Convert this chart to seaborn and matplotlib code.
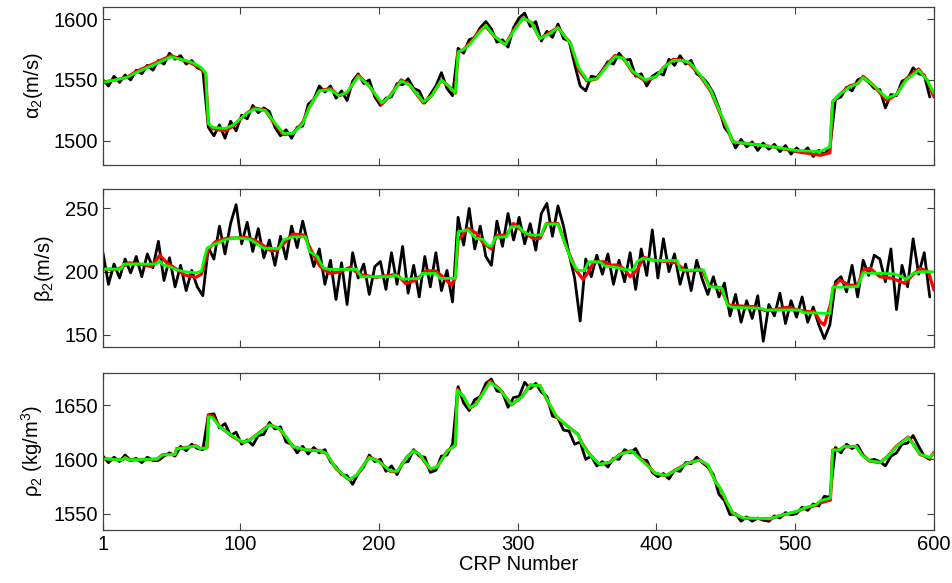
import numpy as np
import pandas as pd
import matplotlib
matplotlib.use("Agg")
import matplotlib.pyplot as plt
import seaborn as sns

# ---------------- data ----------------
crp_black = np.arange(1, 601, 4)

alpha_black = [
    1550,1545,1553,1548,1554,1550,1558,1555,1562,1558,
    1566,1563,1572,1567,1570,1563,1566,1560,1558,1511,
    1504,1513,1502,1516,1508,1521,1518,1529,1523,1527,
    1524,1511,1504,1509,1502,1511,1512,1530,1534,1545,
    1540,1545,1535,1541,1533,1549,1555,1547,1550,1536,
    1529,1535,1536,1547,1546,1551,1543,1541,1531,1538,
    1545,1556,1543,1537,1576,1572,1583,1585,1593,1598,
    1592,1581,1583,1577,1593,1601,1605,1594,1598,1582,
    1590,1585,1596,1584,1582,1563,1545,1541,1553,1552,
    1558,1565,1563,1572,1566,1567,1553,1555,1545,1553,
    1556,1554,1567,1562,1570,1563,1566,1555,1552,1547,
    1539,1527,1511,1505,1494,1501,1495,1499,1492,1498,
    1493,1497,1491,1496,1489,1494,1490,1494,1487,1492,
    1489,1494,1534,1536,1544,1541,1550,1552,1548,1543,
    1542,1527,1538,1537,1549,1551,1560,1555,1554,1536]

alpha_x = [1,10,18,25,37,50,57,64,71,75, 77,80,89,95,104,110,118,124,131,138,
           145,150,157,165,171,177,185,193,202,208, 216,222,232,238,245,251,255,257,261,266,
           273,277,283,291,297,304,310,316,323,329, 338,344,350,357,364,370,376,383,392,400,
           405,412,419,424,431,439,446,451,455,470, 484,501,518,525,527,532,539,545,549,556,
           566,573,580,589,595,600]
alpha_green = [1548,1550,1552,1556,1562,1569,1567,1565,1561,1556, 1514,1511,1510,1513,1522,1526,1525,1516,1506,1506,
               1514,1528,1541,1542,1537,1540,1553,1545,1531,1537, 1549,1546,1532,1537,1550,1544,1539,1573,1575,1580,
               1590,1595,1586,1579,1590,1601,1597,1584,1588,1593, 1580,1560,1550,1551,1561,1569,1568,1557,1550,1553,
               1560,1566,1566,1564,1555,1542,1523,1511,1499,1497, 1495,1492,1491,1495,1532,1538,1544,1547,1552,1546,
               1535,1538,1550,1558,1550,1539]
alpha_red = [1548,1550,1552,1557,1563,1570,1567,1564,1560,1555, 1514,1510,1508,1512,1522,1527,1525,1515,1505,1506,
             1515,1528,1541,1543,1537,1539,1554,1545,1530,1537, 1550,1546,1531,1537,1550,1544,1539,1573,1575,1581,
             1591,1594,1586,1579,1591,1601,1597,1584,1589,1593, 1580,1558,1549,1551,1562,1570,1568,1556,1549,1553,
             1560,1567,1566,1563,1554,1541,1522,1510,1499,1497, 1495,1491,1488,1490,1532,1538,1545,1547,1553,1546,
             1533,1538,1551,1559,1550,1536]

beta_black = [
    215,190,206,195,210,199,212,196,214,203,
    224,193,211,188,205,185,201,188,181,219,
    210,236,214,238,253,222,239,216,234,211,
    225,205,228,210,236,219,240,221,204,218,
    190,209,178,207,174,215,195,206,182,204,
    208,186,215,190,220,183,205,180,212,188,
    215,185,201,176,243,221,250,218,236,212,
    205,240,220,246,225,243,222,238,217,246,
    254,228,252,236,214,195,161,210,196,213,
    198,214,190,209,192,215,186,218,197,233,
    195,226,200,214,190,206,185,209,194,182,
    196,180,191,165,182,160,177,163,181,145,
    174,165,183,159,177,164,180,160,172,158,
    147,158,192,196,184,205,180,209,197,213,
    210,192,218,170,205,188,226,198,215,180]

beta_green_x = [1,14,16,39,42,44,49,54,60,68, 72,74,76,80,90,97,107,111,116,119,
                128,131,138,147,150,155,160,164,184,187, 208,212,217,229,231,241,244,255,257,264,
                270,275,278,281,284,292,295,301,304,309, 317,320,329,334,339,343,348,351,359,363,
                371,376,383,386,390,400,415,417,434,438, 447,451,455,475,479,503,506,525,527,545,
                549,571,577,580,585,590,600]
beta_green = [202,202,206,206,208.5,205.5,204,201.5,200,199, 200.5,210,218.4,221,225.5,227,225.5,222.8,219,218.4,
              218.4,225,227.6,227.6,215.7,212.6,203,201.8,201.8,196, 196,197.2,194,194.7,198.6,198.6,194.7,194.7,231.5,233,
              226.3,225.5,221,220,227.1,227.6,235.5,235.5,231.5,229, 229,237.6,237.6,222.3,207.8,201.3,200.7,207.8,207.8,204.4,
              203.4,201.8,201.3,207.8,210.5,208.8,208.8,201.3,201.3,188.1, 187.1,173.6,171.8,171,169.7,169.7,167.5,167,187.6,188.1,
              199.1,198.3,196,193.9,198.6,199.9,199.9]

beta_red_x = [1,12,20,30,36,42,47,54,60,68, 72,77,82,90,104,110,115,121,126,132,
              138,146,151,157,160,165,172,179,186,198, 207,213,219,226,234,241,247,252,255,257,
              264,270,275,281,285,292,297,304,311,316, 321,329,335,342,347,351,355,362,367,372,
              377,381,386,391,398,408,414,421,433,438, 446,452,457,470,479,494,502,508,514,518,
              521,525,528,532,539,545,549,554,561,570, 579,585,590,596,600]
beta_red = [201.8,202,207,205.5,204,213,207,202,197.3,195.5, 198,217.6,223.6,226.3,227.1,225,222,217.1,216.5,223,
            229.7,229,217.1,205,201.8,198.6,200,203.4,197.8,195.5, 197,197.8,190.7,193,200.7,200.5,195,189.4,195,225,
            234.2,230.5,222.8,218,228.8,228.8,238.1,231.5,226.3,226.3, 238.1,238.1,219.7,201.3,193.9,199.9,207.8,207.8,205.2,205.2,
            201.8,196,201.3,211.3,209,208,207,200.5,201.3,188.9, 187.1,173.6,173,172.3,169,171.8,169.7,168.4,168.4,160.4,
            157.8,172.5,188.1,193.4,189.4,189,201.3,202.6,196,194.7, 190.7,197.8,202.6,200,185.5]

rho_black = [
    1603,1597,1602,1598,1604,1599,1601,1597,1602,1599,
    1599,1603,1606,1603,1612,1608,1614,1610,1609,1641,
    1642,1629,1633,1622,1625,1614,1618,1613,1622,1623,
    1634,1628,1630,1616,1614,1606,1612,1605,1611,1606,
    1609,1598,1593,1586,1585,1577,1587,1593,1604,1598,
    1600,1589,1594,1586,1597,1598,1609,1603,1602,1588,
    1590,1603,1604,1614,1667,1652,1645,1655,1658,1670,
    1674,1663,1662,1648,1657,1658,1671,1665,1670,1662,
    1658,1640,1638,1627,1626,1614,1616,1600,1603,1594,
    1598,1593,1601,1600,1609,1606,1610,1600,1599,1588,
    1584,1587,1582,1590,1589,1597,1596,1602,1597,1593,
    1586,1568,1562,1549,1550,1543,1547,1543,1546,1544,
    1543,1548,1546,1551,1549,1550,1556,1553,1559,1557,
    1566,1565,1611,1606,1614,1610,1613,1604,1599,1600,
    1598,1594,1603,1606,1614,1615,1622,1612,1603,1600]

rho_x = [1,15,17,20,40,44,53,54,61,68, 71,76,77,80,85,95,102,107,114,121,
         128,133,138,148,157,162,169,177,179,184, 193,200,208,213,220,225,229,237,242,249,
         255,256.5,261,265.5,270,280,287,295.5,303,309, 316,322,328,335,343.6,346,352,359,366.5,374,
         382,393,399,407,414.5,422,431,437,443,446, 450.5,455,462.5,482,487,501,508,515,518,525.4,
         527,532,535,544,548,554,561,566,573,581.4, 585,590,597,600]
rho_green = [1600.5,1599.6,1601.7,1599.6,1600.2,1604.1,1604.5,1609.6,1610.8,1612.4,
             1610,1610.5,1639.3,1638.5,1630.1,1621,1615.8,1617.9,1624.5,1631.7,
             1628.7,1621,1611.8,1608.7,1608,1605.7,1591.9,1582.8,1581.3,1585.8,
             1601.7,1598,1589.5,1589,1601.7,1607.8,1605,1591.3,1593.2,1607.2,
             1613.3,1663.8,1657.6,1647.5,1650.9,1671,1664.5,1650.6,1657.6,1668.3,
             1668,1653,1639.3,1631.7,1622.5,1614.9,1604.1,1595.6,1597.4,1604.8,
             1607.8,1595,1587.3,1585.2,1590.4,1596.3,1599.3,1595,1578.2,1573.6,
             1561.3,1550.6,1546,1545.4,1547.6,1552.1,1555.8,1558.2,1561.9,1564.4,
             1608.7,1608.7,1611.8,1611.8,1604.1,1598.6,1597.4,1601.7,1611.8,1620,
             1614,1604.8,1601.7,1605.7]
rho_red = [1600.5,1599.6,1601.5,1599.4,1600.2,1604.3,1604.5,1609.8,1611,1612.6,
           1610,1610.8,1641,1640,1630.5,1620.5,1615.5,1618,1624.8,1632,
           1628.5,1620.5,1611.5,1608.5,1608.2,1605.5,1591.5,1582.5,1581,1585.5,
           1602,1598.2,1589,1588.5,1602,1608,1604.5,1590.8,1593,1607.5,
           1613,1664.5,1657.5,1647,1651,1672,1664.8,1650.2,1657.8,1668.5,
           1668,1652.5,1639,1631.5,1622.8,1615.5,1604.3,1595.2,1597.5,1605,
           1608,1595.5,1587,1585,1590.8,1596.5,1599.5,1594.5,1578.5,1573,
           1561,1550.3,1545.8,1545.2,1547.4,1551.8,1555.5,1557.5,1560,1562.5,
           1608.5,1608.5,1611.5,1612,1604.5,1598.3,1597,1602,1612.3,1620.5,
           1614.3,1604.5,1601.2,1606.5]

xticks = [1, 100, 200, 300, 400, 500, 600]
ylabels = ["α$_2$(m/s)", "β$_2$(m/s)", "ρ$_2$ (kg/m$^3$)"]
yticks = [[1500, 1550, 1600], [150, 200, 250], [1550, 1600, 1650]]
ylims = [(1480, 1610), (140.5, 265), (1535, 1680)]

# ---------------- style ----------------
sns.set_theme(style="ticks")
plt.rcParams["font.family"] = ["Liberation Sans", "DejaVu Sans"]
plt.rcParams["mathtext.fontset"] = "custom"
plt.rcParams["mathtext.rm"] = "Liberation Sans"
plt.rcParams["mathtext.it"] = "Liberation Sans:italic"
plt.rcParams["text.color"] = "black"
plt.rcParams["axes.labelcolor"] = "black"

fig = plt.figure(figsize=(9.53, 5.83), dpi=100)
positions = [[0.108, 0.717, 0.872, 0.271],
             [0.108, 0.405, 0.872, 0.270],
             [0.108, 0.091, 0.872, 0.270]]

panels = [
    (alpha_black, alpha_x, alpha_red, alpha_x, alpha_green),
    (beta_black, beta_red_x, beta_red, beta_green_x, beta_green),
    (rho_black, rho_x, rho_red, rho_x, rho_green),
]

for i, (blk, rx, red, gx, grn) in enumerate(panels):
    ax = fig.add_axes(positions[i])
    sns.lineplot(x=crp_black, y=blk, ax=ax, color="black", lw=2.0,
                 estimator=None, sort=False)
    sns.lineplot(x=rx, y=red, ax=ax, color="#ff0000", lw=2.3,
                 estimator=None, sort=False)
    sns.lineplot(x=gx, y=grn, ax=ax, color="#00ff00", lw=2.0,
                 estimator=None, sort=False)
    ax.set_xlim(1, 600)
    ax.set_ylim(*ylims[i])
    ax.set_xticks(xticks)
    ax.set_yticks(yticks[i])
    ax.tick_params(direction="in", top=True, right=True, length=5,
                   width=0.8, labelsize=14.5, colors="#404040",
                   labelcolor="black")
    for sp in ax.spines.values():
        sp.set_color("#404040")
        sp.set_linewidth(0.9)
    ax.set_ylabel(ylabels[i], fontsize=14.5, labelpad=6, color="black")
    if i < 2:
        ax.set_xticklabels([])
        ax.set_xlabel("")
    else:
        ax.set_xticklabels([str(t) for t in xticks])
        ax.set_xlabel("CRP Number", fontsize=14.5, labelpad=1, color="black")

fig.savefig("out.png", dpi=100)
